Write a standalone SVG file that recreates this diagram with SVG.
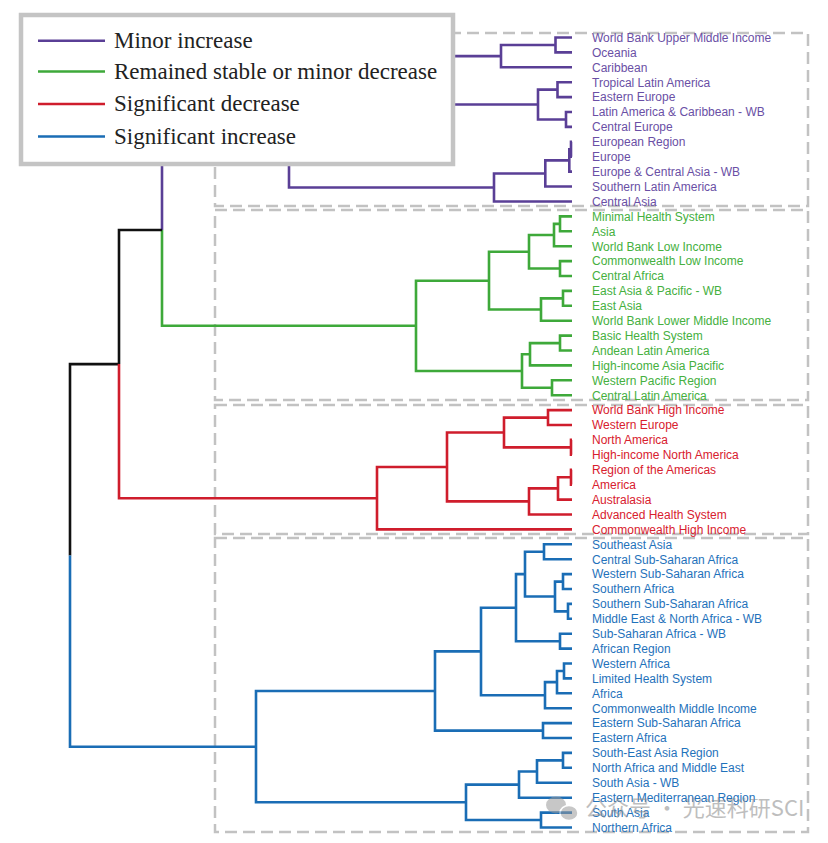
<svg xmlns="http://www.w3.org/2000/svg" width="828" height="843" viewBox="0 0 828 843">
<style>
.br{fill:none;stroke-width:2.6;stroke-linejoin:miter;stroke-linecap:butt}
.p{stroke:#5a3f96}.g{stroke:#3ea93a}.r{stroke:#cf1d2c}.b{stroke:#1a6db5}.k{stroke:#111}
.box{fill:none;stroke:#c2c2c2;stroke-width:2.5;stroke-dasharray:12 6}
.lbl{font-family:"Liberation Sans",Arial,sans-serif;font-size:12px}
.tp{fill:#6a4fa5}.tg{fill:#45b040}.tr{fill:#d8202e}.tb{fill:#1f72bb}
.leg{font-family:"Liberation Serif","Times New Roman",serif;font-size:23px;fill:#222}
</style>
<rect x="0" y="0" width="828" height="843" fill="#ffffff"/>
<g id="cluster-boxes">
<rect class="box" x="215" y="33" width="593" height="173"/>
<rect class="box" x="215" y="210" width="593" height="190"/>
<rect class="box" x="215" y="405" width="593" height="129"/>
<rect class="box" x="215" y="538" width="593" height="294"/>
</g>
<g id="connectors">
<!-- purple -->
<path class="br p" d="M572 37.5H555.5V52.4H572"/>
<path class="br p" d="M555.5 45H501V67.3H572"/>
<path class="br p" d="M572 82.2H557.5V97.1H572"/>
<path class="br p" d="M572 112H566V126.9H572"/>
<path class="br p" d="M557.5 89.6H538V119.5H566"/>
<path class="br p" d="M501 56.1H380V104.5H538"/>
<path class="br p" d="M572 141.8H571V156.7H572"/>
<path class="br p" d="M571 149.3H569.3V171.6H572"/>
<path class="br p" d="M569.3 160.4H545.3V186.5H572"/>
<path class="br p" d="M545.3 173.5H494V201.5H572"/>
<path class="br p" d="M380 80.3H289V187.5H494"/>
<path class="br p" d="M289 133.9H162V230"/>
<!-- green -->
<path class="br g" d="M162 230V325.8H416"/>
<path class="br g" d="M572 216.4H560V231.3H572"/>
<path class="br g" d="M560 223.9H554V246.2H572"/>
<path class="br g" d="M572 261.1H560V276H572"/>
<path class="br g" d="M554 235H529V268.5H560"/>
<path class="br g" d="M572 290.9H563V305.8H572"/>
<path class="br g" d="M563 298.4H541V320.7H572"/>
<path class="br g" d="M529 251.8H489V309.5H541"/>
<path class="br g" d="M572 335.6H560V350.5H572"/>
<path class="br g" d="M560 343.1H530V365.4H572"/>
<path class="br g" d="M572 380.3H552V395.2H572"/>
<path class="br g" d="M530 354.2H522V387.8H552"/>
<path class="br g" d="M489 280.7H416V371H522"/>
<!-- black -->
<path class="br k" d="M162 230H119V364.1"/>
<path class="br k" d="M119 364.1H70V555.4"/>
<!-- red -->
<path class="br r" d="M119 364.1V498.2H377"/>
<path class="br r" d="M572 410.1H548V425H572"/>
<path class="br r" d="M572 439.9H571V454.8H572"/>
<path class="br r" d="M548 417.6H504V447.4H571"/>
<path class="br r" d="M572 469.7H571V484.6H572"/>
<path class="br r" d="M571 477.2H558V499.6H572"/>
<path class="br r" d="M558 488.4H529V514.5H572"/>
<path class="br r" d="M504 432.5H447V501.4H529"/>
<path class="br r" d="M447 467H377V529.4H572"/>
<!-- blue -->
<path class="br b" d="M70 555.4V746.7H256"/>
<path class="br b" d="M572 544.3H544V559.2H572"/>
<path class="br b" d="M572 574.1H563V589H572"/>
<path class="br b" d="M572 603.9H568V618.8H572"/>
<path class="br b" d="M563 581.6H555V611.4H568"/>
<path class="br b" d="M544 551.8H525V596.5H555"/>
<path class="br b" d="M572 633.7H560V648.6H572"/>
<path class="br b" d="M525 574.1H516V641.2H560"/>
<path class="br b" d="M572 663.5H564V678.4H572"/>
<path class="br b" d="M564 671H557V693.3H572"/>
<path class="br b" d="M557 682.1H545V708.2H572"/>
<path class="br b" d="M516 607.7H481V695.2H545"/>
<path class="br b" d="M572 723.1H543V738H572"/>
<path class="br b" d="M481 651.4H435V730.6H543"/>
<path class="br b" d="M572 752.9H563V767.8H572"/>
<path class="br b" d="M563 760.4H537V782.7H572"/>
<path class="br b" d="M537 771.5H519V797.7H572"/>
<path class="br b" d="M572 812.6H541V827.5H572"/>
<path class="br b" d="M519 784.6H466V820H541"/>
<path class="br b" d="M435 691H256V802.3H466"/>
</g>
<g id="labels" class="lbl">
<g id="labels-purple" class="tp">
<text x="592" y="41.8">World Bank Upper Middle Income</text>
<text x="592" y="56.7">Oceania</text>
<text x="592" y="71.6">Caribbean</text>
<text x="592" y="86.5">Tropical Latin America</text>
<text x="592" y="101.4">Eastern Europe</text>
<text x="592" y="116.3">Latin America &amp; Caribbean - WB</text>
<text x="592" y="131.2">Central Europe</text>
<text x="592" y="146.1">European Region</text>
<text x="592" y="161">Europe</text>
<text x="592" y="175.9">Europe &amp; Central Asia - WB</text>
<text x="592" y="190.8">Southern Latin America</text>
<text x="592" y="205.8">Central Asia</text>
</g>
<g id="labels-green" class="tg">
<text x="592" y="220.7">Minimal Health System</text>
<text x="592" y="235.6">Asia</text>
<text x="592" y="250.5">World Bank Low Income</text>
<text x="592" y="265.4">Commonwealth Low Income</text>
<text x="592" y="280.3">Central Africa</text>
<text x="592" y="295.2">East Asia &amp; Pacific - WB</text>
<text x="592" y="310.1">East Asia</text>
<text x="592" y="325">World Bank Lower Middle Income</text>
<text x="592" y="339.9">Basic Health System</text>
<text x="592" y="354.8">Andean Latin America</text>
<text x="592" y="369.7">High-income Asia Pacific</text>
<text x="592" y="384.6">Western Pacific Region</text>
<text x="592" y="399.5">Central Latin America</text>
</g>
<g id="labels-red" class="tr">
<text x="592" y="414.4">World Bank High Income</text>
<text x="592" y="429.3">Western Europe</text>
<text x="592" y="444.2">North America</text>
<text x="592" y="459.1">High-income North America</text>
<text x="592" y="474">Region of the Americas</text>
<text x="592" y="488.9">America</text>
<text x="592" y="503.9">Australasia</text>
<text x="592" y="518.8">Advanced Health System</text>
<text x="592" y="533.7">Commonwealth High Income</text>
</g>
<g id="labels-blue" class="tb">
<text x="592" y="548.6">Southeast Asia</text>
<text x="592" y="563.5">Central Sub-Saharan Africa</text>
<text x="592" y="578.4">Western Sub-Saharan Africa</text>
<text x="592" y="593.3">Southern Africa</text>
<text x="592" y="608.2">Southern Sub-Saharan Africa</text>
<text x="592" y="623.1">Middle East &amp; North Africa - WB</text>
<text x="592" y="638">Sub-Saharan Africa - WB</text>
<text x="592" y="652.9">African Region</text>
<text x="592" y="667.8">Western Africa</text>
<text x="592" y="682.7">Limited Health System</text>
<text x="592" y="697.6">Africa</text>
<text x="592" y="712.5">Commonwealth Middle Income</text>
<text x="592" y="727.4">Eastern Sub-Saharan Africa</text>
<text x="592" y="742.3">Eastern Africa</text>
<text x="592" y="757.2">South-East Asia Region</text>
<text x="592" y="772.1">North Africa and Middle East</text>
<text x="592" y="787">South Asia - WB</text>
<text x="592" y="802">Eastern Mediterranean Region</text>
<text x="592" y="816.9">South Asia</text>
<text x="592" y="831.8">Northern Africa</text>
</g>
</g>
<g id="legend">
<rect x="21" y="15" width="432" height="149" fill="#ffffff" stroke="#c4c4c4" stroke-width="4.5"/>
<line class="br p" x1="38" y1="40.7" x2="105" y2="40.7"/>
<line class="br g" x1="38" y1="71.5" x2="105" y2="71.5"/>
<line class="br r" x1="38" y1="104" x2="105" y2="104"/>
<line class="br b" x1="38" y1="136.5" x2="105" y2="136.5"/>
<text class="leg" x="114" y="47.5">Minor increase</text>
<text class="leg" x="114" y="78.5">Remained stable or minor decrease</text>
<text class="leg" x="114" y="111">Significant decrease</text>
<text class="leg" x="114" y="143.5">Significant increase</text>
</g>
<g id="watermark" opacity="0.55">
<ellipse cx="556" cy="805" rx="10" ry="8.5" fill="#9a9a9a"/>
<ellipse cx="569" cy="813" rx="9" ry="7.5" fill="#9a9a9a" stroke="#ffffff" stroke-width="1.5"/>
<text x="585" y="816" font-family="'Noto Sans CJK SC',sans-serif" font-size="22" fill="#8a8a8a">公众号 · 光速科研SCI</text>
</g>
</svg>
